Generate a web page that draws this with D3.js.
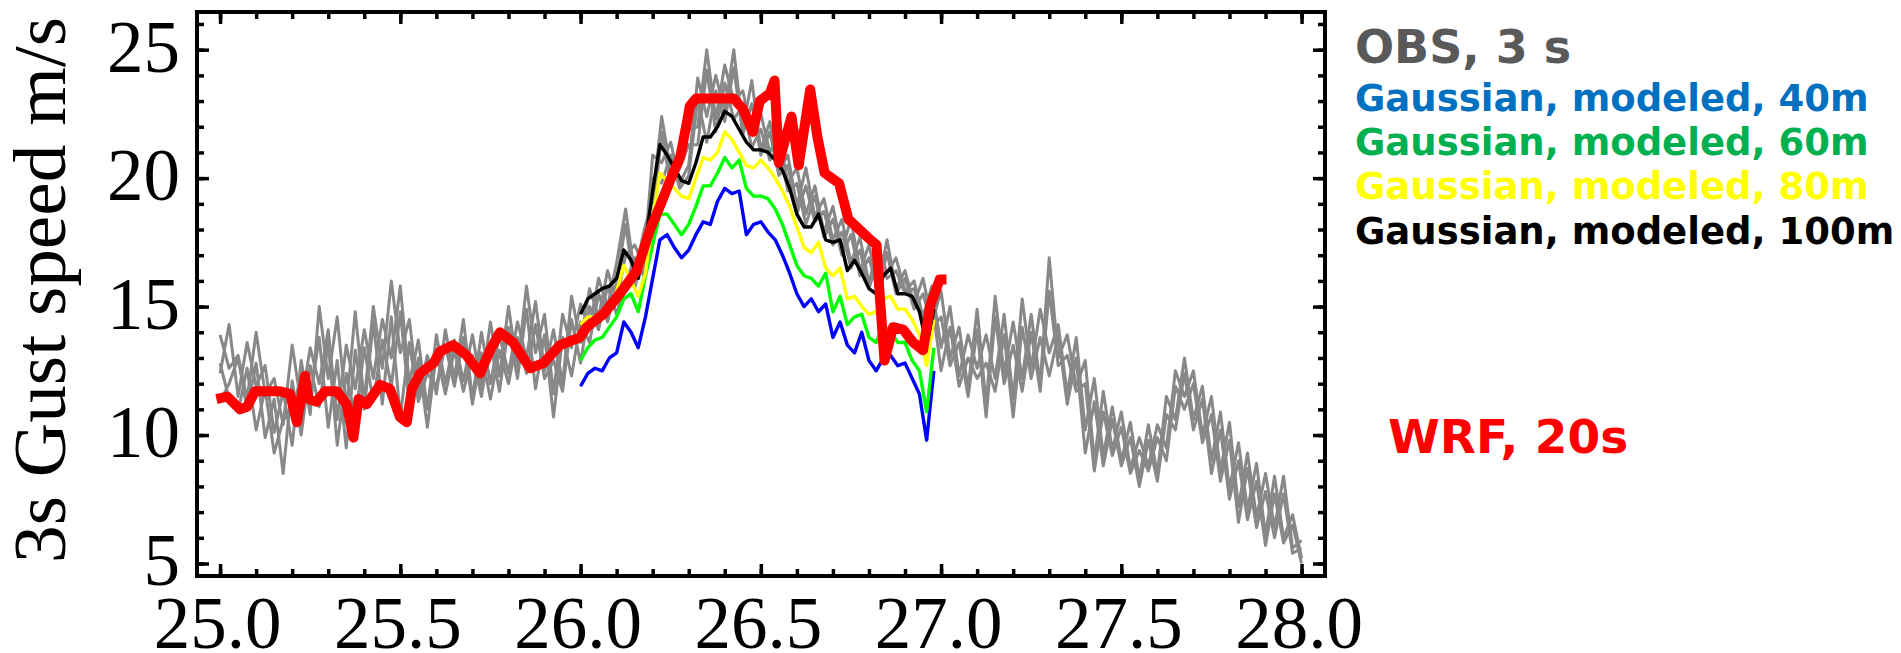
<!DOCTYPE html>
<html>
<head>
<meta charset="utf-8">
<script src="https://cdn.jsdelivr.net/npm/d3@7"></script>
<style>
  html, body { margin: 0; padding: 0; background: #fff; }
  svg { display: block; }
</style>
</head>
<body>
<svg id="chart" width="1901" height="653"></svg>
<script>
//======== DATA ========//
// observed 3 s gusts, 4 sensors, one value every 0.025 from 25.0 to 28.0
const obsTime = d3.range(121).map(i => +(25 + i * 0.025).toFixed(3));
const obsA = [13.9,12.6,13.1,11.4,14.0,11.6,12.2,10.4,13.5,11.2, 13.4,12.0,14.1,10.6,13.5,11.8,14.1,12.2,14.5,13.0,
  15.8,12.0,13.7,11.0,13.9,12.0,13.7,12.1,13.9,11.9, 14.4,12.3,15.0,12.6,15.8,13.2,14.7,11.6,14.7,13.4,
  15.1,14.2,16.1,15.0,16.7,18.8,16.2,17.9,19.2,22.4, 20.3,20.9,21.9,22.0,25.0,22.3,24.4,23.0,23.4,21.8,
  22.5,21.0,21.7,19.8,20.4,18.6,19.7,17.9,18.9,17.2, 18.4,16.4,17.4,15.8,17.6,15.7,16.4,15.1,16.1,14.4,
  15.6,13.0,14.2,11.8,14.9,11.2,15.4,12.4,14.4,12.2, 14.7,12.0,16.9,13.0,13.9,11.9,12.9,9.0,11.7,9.4,
  10.9,8.7,9.9,8.8,10.4,9.5,12.5,11.5,12.5,10.0, 11.5,8.6,10.5,7.2,9.3,6.8,8.5,6.4,8.4,5.6,
  5.9];
const obsB = [12.4,14.3,11.5,13.6,11.9,12.7,10.1,11.7,9.6,12.9, 10.8,15.0,12.2,14.6,11.0,14.8,11.3,15.0,12.6,16.0,
  13.2,14.5,11.5,13.1,11.6,14.1,12.2,14.5,11.4,14.0, 12.0,13.9,12.4,14.4,13.0,15.2,12.5,14.1,12.0,15.4,
  13.6,15.7,14.6,16.4,15.2,17.0,17.4,16.6,20.9,20.6, 21.4,19.8,20.5,23.9,22.4,24.0,22.6,25.0,21.9,23.8,
  21.1,22.2,20.3,20.9,18.9,20.4,18.5,19.2,17.6,18.4, 16.7,17.7,15.9,17.4,16.3,16.9,15.6,16.0,14.6,15.8,
  13.4,15.0,12.3,13.9,12.6,13.9,12.2,14.7,11.4,15.3, 12.6,14.9,13.2,14.3,11.6,13.8,10.2,12.2,9.2,11.1,
  9.0,10.5,8.3,10.4,8.5,11.5,10.6,13.0,10.6,11.9, 9.0,10.9,7.9,9.7,7.1,8.9,6.1,8.4,6.0,6.9,
  5.2];
const obsC = [11.3,12.0,13.0,11.0,12.8,9.9,11.4,8.5,12.1,10.0, 12.7,11.1,13.6,9.6,12.4,10.6,13.4,11.3,13.7,11.9,
  14.8,11.2,13.0,10.3,13.2,11.6,13.3,11.7,13.1,11.5, 13.6,11.7,14.2,12.2,14.9,11.8,13.9,10.7,13.8,12.3,
  14.4,13.6,15.5,14.4,16.0,18.2,15.7,17.2,18.3,21.8, 19.7,20.4,21.3,21.3,24.2,21.8,23.7,22.3,22.8,21.2,
  21.9,20.7,21.2,19.5,19.8,18.2,19.3,17.7,18.4,17.0, 17.8,16.2,16.9,15.6,17.1,15.5,16.1,14.9,15.5,14.2,
  14.6,12.7,13.6,11.5,14.1,10.7,14.6,12.0,13.5,11.7, 14.0,11.7,15.6,12.7,13.1,11.7,12.0,8.6,10.9,9.2,
  10.3,8.5,9.4,8.6,9.9,9.0,11.9,11.0,12.0,9.7, 10.8,8.2,9.8,6.6,8.7,6.4,7.8,6.0,7.7,5.4,
  5.6];
const obsD = [12.8,11.4,10.9,12.6,10.2,11.8,9.3,10.6,10.9,12.3, 11.4,13.8,10.3,12.9,9.5,13.3,11.0,14.4,11.2,14.6,
  10.7,13.6,11.3,12.4,11.9,13.5,11.9,13.8,11.2,13.2, 11.4,13.3,12.0,13.8,12.4,14.3,12.2,12.9,11.7,14.5,
  12.8,15.0,14.1,15.8,14.7,15.9,16.9,16.2,20.0,19.8, 20.9,19.6,20.1,23.1,21.4,23.4,22.2,24.3,21.7,22.9,
  20.9,21.8,20.1,20.5,18.6,19.7,18.3,18.7,17.4,17.9, 16.5,17.2,15.7,16.8,16.1,16.4,15.5,15.7,14.4,15.2,
  12.5,14.2,11.9,13.0,12.2,12.8,11.7,13.9,10.7,14.2, 12.2,13.8,12.3,13.9,11.2,13.0,9.3,11.3,8.8,10.6,
  8.8,9.9,8.0,9.8,8.2,10.8,10.2,12.4,10.2,11.4, 8.5,10.2,7.5,9.0,6.7,8.2,5.7,7.7,5.8,6.5,
  5.0];

// Gaussian modeled gusts, one value every 0.02 from 26.00 to 26.98
const modelTime = d3.range(50).map(i => +(26 + i * 0.02).toFixed(2));
const gauss40 = [11.9,12.4,12.6,12.5,13.0,13.2,14.4,14.0,13.4,14.6, 16.1,17.6,17.8,17.3,16.9,17.2,17.8,18.3,18.2,19.1,
  19.6,19.4,19.5,17.8,18.2,18.3,17.9,17.6,17.0,16.3, 15.5,15.0,15.3,14.8,15.1,13.8,14.4,13.5,13.2,14.0,
  12.9,12.5,13.0,13.1,12.7,12.8,12.2,11.6,9.8,12.5];
const gauss60 = [12.9,13.4,13.7,13.8,14.2,14.6,15.3,15.5,14.8,16.2, 17.4,18.6,18.6,18.2,17.8,18.2,18.9,19.7,19.7,20.2,
  20.8,20.4,20.7,19.6,19.3,19.3,19.2,18.8,18.2,17.4, 16.6,16.2,16.1,15.8,16.3,14.8,15.4,14.3,14.6,14.7,
  13.8,13.6,14.3,14.0,13.6,13.6,12.9,12.5,10.9,13.4];
const gauss80 = [14.3,14.6,14.6,14.8,15.0,15.6,16.6,16.0,15.4,16.3, 18.4,20.2,19.9,19.6,19.3,19.2,20.0,20.8,20.7,21.0,
  21.8,21.5,21.0,20.5,20.4,20.7,20.4,20.0,19.5,18.9, 18.1,17.3,17.1,17.5,16.5,16.2,16.5,15.3,15.4,15.0,
  14.7,14.8,15.3,15.4,14.9,14.9,14.5,13.9,12.7,14.5];
const gauss100 = [14.7,15.3,15.5,15.7,15.8,16.1,17.2,16.8,16.1,17.5, 19.5,21.3,20.9,20.4,19.9,19.8,20.6,21.6,21.6,22.0,
  22.6,22.4,21.9,21.4,21.1,21.1,21.0,20.7,20.3,19.6, 18.6,18.1,18.1,18.6,17.6,17.5,17.6,16.4,16.8,16.3,
  15.7,15.5,16.2,16.5,15.5,15.5,15.4,14.8,13.5,14.9];

// WRF 20 s output
const wrfTime = [24.99,25.02,25.055,25.075,25.097,25.166,25.194,25.213,25.236,25.245,25.268,25.291,25.324,25.351,
  25.370,25.384,25.407,25.444,25.471,25.499,25.518,25.532,25.555,25.592,25.610,25.647,25.684,25.721,25.749,25.776,
  25.813,25.860,25.897,25.943,25.998,26.017,26.063,26.109,26.156,26.193,26.220,26.248,26.276,26.294,26.303,26.320,
  26.387,26.425,26.450,26.478,26.497,26.525,26.538,26.550,26.585,26.605,26.637,26.657,26.677,26.717,26.743,26.796,
  26.821,26.830,26.843,26.867,26.895,26.923,26.950,26.969,26.996,27.015];
const wrfSpeed = [11.4,11.5,11.0,11.1,11.7,11.7,11.6,10.5,12.3,11.4,11.3,11.7,11.7,11.2,
  9.9,11.4,11.2,11.95,11.8,10.7,10.5,11.8,12.4,12.8,13.25,13.5,13.1,12.4,13.3,14.0,
  13.6,12.6,12.8,13.5,13.8,14.2,14.7,15.5,16.4,18.0,18.9,19.9,20.8,22.1,22.8,23.1,
  23.1,23.1,22.7,21.8,23.0,23.3,23.8,20.6,22.4,20.5,23.45,21.6,20.2,19.8,18.4,17.7,
  17.4,15.4,12.9,14.2,14.1,13.6,13.3,15.0,16.05,16.05];

const xTicks = [25.0, 25.5, 26.0, 26.5, 27.0, 27.5, 28.0];
const xMinorTicks = d3.range(250, 281).map(v => v / 10);
const yTicks = [5, 10, 15, 20, 25];
const yMinorTicks = d3.range(5, 27);

const legendLabels = ['Gaussian, modeled, 40m', 'Gaussian, modeled, 60m', 'Gaussian, modeled, 80m', 'Gaussian, modeled, 100m'];
const legendColors = ['#0070c0', '#00b050', '#ffff00', '#000000'];
const lineColors = ['#0000ff', '#00ff00', '#ffff00', '#000000'];

//======== CHART ========//
(function chart() {
  const svg = d3.select('#chart');
  const left = 197, right = 1325, top = 12, bottom = 576;

  const x = d3.scaleLinear().domain([24.936, 28.065]).range([left, right]);
  const y = d3.scaleLinear().domain([4.513, 26.467]).range([bottom, top]);

  const line = d3.line()
    .x(d => x(d[0]))
    .y(d => y(d[1]));

  const plot = svg.append('g');

  // observations
  plot.selectAll('.obs')
    .data([obsA, obsB, obsC, obsD])
    .join('path')
    .attr('class', 'obs')
    .attr('d', d => line(d3.zip(obsTime, d)))
    .attr('fill', 'none')
    .attr('stroke', '#888')
    .attr('stroke-width', 3)
    .attr('stroke-linejoin', 'round');

  // gaussian model lines
  plot.selectAll('.model')
    .data([gauss40, gauss60, gauss80, gauss100])
    .join('path')
    .attr('class', 'model')
    .attr('d', d => line(d3.zip(modelTime, d)))
    .attr('fill', 'none')
    .attr('stroke', (d, i) => lineColors[i])
    .attr('stroke-width', 3.4)
    .attr('stroke-linejoin', 'round');

  // WRF
  plot.append('path')
    .attr('d', line(d3.zip(wrfTime, wrfSpeed)))
    .attr('fill', 'none')
    .attr('stroke', '#ff0000')
    .attr('stroke-width', 10)
    .attr('stroke-linejoin', 'round');

  // axes
  const styleAxis = g => {
    g.select('.domain').remove();
    g.selectAll('line').attr('stroke-width', 3.5);
    g.attr('font-family', '"Liberation Serif", "Times New Roman", serif')
      .attr('font-size', 73)
      .attr('fill', '#000');
  };

  svg.append('g')
    .attr('transform', `translate(0,${bottom})`)
    .call(d3.axisBottom(x).tickValues(xMinorTicks).tickSize(-7).tickFormat(''))
    .call(styleAxis);
  svg.append('g')
    .attr('transform', `translate(0,${bottom})`)
    .call(d3.axisBottom(x).tickValues(xTicks).tickSize(-12).tickFormat(d3.format('.1f')))
    .call(styleAxis)
    .call(g => g.selectAll('text').attr('y', 72).attr('dy', 0).attr('dx', -3));

  svg.append('g')
    .attr('transform', `translate(0,${top})`)
    .call(d3.axisTop(x).tickValues(xMinorTicks).tickSize(-7).tickFormat(''))
    .call(styleAxis);
  svg.append('g')
    .attr('transform', `translate(0,${top})`)
    .call(d3.axisTop(x).tickValues(xTicks).tickSize(-12).tickFormat(''))
    .call(styleAxis);

  svg.append('g')
    .attr('transform', `translate(${left},0)`)
    .call(d3.axisLeft(y).tickValues(yMinorTicks).tickSize(-7).tickFormat(''))
    .call(styleAxis);
  svg.append('g')
    .attr('transform', `translate(${left},0)`)
    .call(d3.axisLeft(y).tickValues(yTicks).tickSize(-12).tickPadding(17))
    .call(styleAxis)
    .call(g => g.selectAll('text').attr('dy', 21.5));

  svg.append('g')
    .attr('transform', `translate(${right},0)`)
    .call(d3.axisRight(y).tickValues(yMinorTicks).tickSize(-7).tickFormat(''))
    .call(styleAxis);
  svg.append('g')
    .attr('transform', `translate(${right},0)`)
    .call(d3.axisRight(y).tickValues(yTicks).tickSize(-12).tickFormat(''))
    .call(styleAxis);

  // frame
  svg.append('rect')
    .attr('x', left)
    .attr('y', top)
    .attr('width', right - left)
    .attr('height', bottom - top)
    .attr('fill', 'none')
    .attr('stroke', '#000')
    .attr('stroke-width', 4);

  // y title
  svg.append('text')
    .attr('transform', 'translate(65,290) rotate(-90)')
    .attr('text-anchor', 'middle')
    .attr('font-family', '"Liberation Serif", "Times New Roman", serif')
    .attr('font-size', 74)
    .attr('textLength', 546)
    .attr('lengthAdjust', 'spacingAndGlyphs')
    .text('3s Gust speed m/s');

  // legend
  const legend = svg.append('g')
    .attr('font-family', '"DejaVu Sans", Verdana, sans-serif')
    .attr('font-weight', 'bold');

  legend.append('text')
    .attr('x', 1355)
    .attr('y', 62.5)
    .attr('font-size', 46)
    .attr('fill', '#595959')
    .text('OBS, 3 s');

  legend.selectAll('.lab')
    .data(legendLabels)
    .join('text')
    .attr('class', 'lab')
    .attr('x', 1355)
    .attr('y', (d, i) => 110.5 + i * 44.4)
    .attr('font-size', 37)
    .attr('fill', (d, i) => legendColors[i])
    .text(d => d);

  legend.append('text')
    .attr('x', 1388)
    .attr('y', 453)
    .attr('font-size', 47)
    .attr('fill', '#ff0000')
    .text('WRF, 20s');
})();
</script>
</body>
</html>
